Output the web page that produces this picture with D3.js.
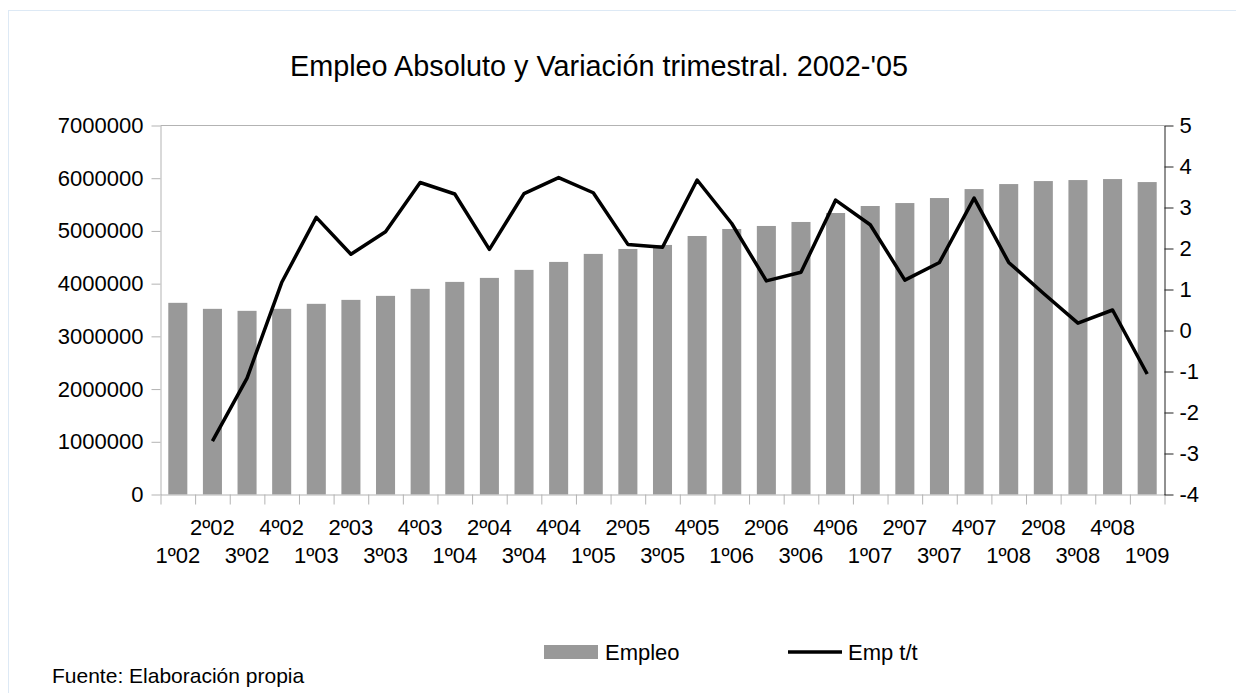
<!DOCTYPE html>
<html>
<head>
<meta charset="utf-8">
<script src="https://cdn.jsdelivr.net/npm/d3@7/dist/d3.min.js"></script>
<style>
  html, body { margin: 0; padding: 0; background: #fff; }
  svg { display: block; font-family: "Liberation Sans", Arial, sans-serif; }
</style>
</head>
<body>
<svg id="chart" width="1236" height="693"></svg>
<script>
// quarters, 1º02 .. 1º09
const quarters = [
  '1º02', '2º02', '3º02', '4º02',
  '1º03', '2º03', '3º03', '4º03',
  '1º04', '2º04', '3º04', '4º04',
  '1º05', '2º05', '3º05', '4º05',
  '1º06', '2º06', '3º06', '4º06',
  '1º07', '2º07', '3º07', '4º07',
  '1º08', '2º08', '3º08', '4º08',
  '1º09'
]

// Empleo (absolute employment)
const empleo = [
  3636000, 3522000, 3484000, 3522000,
  3617000, 3692000, 3768000, 3901000,
  4033000, 4109000, 4261000, 4412000,
  4564000, 4658000, 4734000, 4904000,
  5037000, 5094000, 5170000, 5340000,
  5473000, 5529000, 5624000, 5794000,
  5889000, 5946000, 5965000, 5984000,
  5927000
]

// Emp t/t (quarterly change, %)
const empTt = [
  null, -2.70, -1.16, 1.17,
  2.76, 1.86, 2.41, 3.61,
  3.33, 1.98, 3.34, 3.73,
  3.36, 2.10, 2.03, 3.67,
  2.61, 1.21, 1.42, 3.18,
  2.58, 1.23, 1.66, 3.23,
  1.66, 0.91, 0.18, 0.50,
  -1.06
]

const leftTicks = [0, 1000000, 2000000, 3000000, 4000000, 5000000, 6000000, 7000000]
const rightTicks = [-4, -3, -2, -1, 0, 1, 2, 3, 4, 5]

const titleText = "Empleo Absoluto y Variación trimestral. 2002-'05"
const sourceText = 'Fuente: Elaboración propia'

const svg = d3.select('#chart')

const plot = {left: 160.5, right: 1164.5, top: 125.5, bottom: 494.5}
const axisGrey = '#b3b3b3'
const barColor = '#999999'

// plain hyphen for negatives, like the original
const plainFmt = (d) => String(d)

// outer frame
svg.append('rect')
  .attr('x', 8.5).attr('y', 10.5)
  .attr('width', 1260).attr('height', 720)
  .attr('fill', 'none')
  .attr('stroke', '#dde9f5')

// title
svg.append('text')
  .attr('x', 599).attr('y', 76)
  .attr('text-anchor', 'middle')
  .style('font-size', '28.8px')
  .attr('fill', '#000')
  .text(titleText)

// scales
const x = d3.scaleBand()
  .domain(quarters)
  .range([plot.left, plot.right])
  .paddingInner(0.45)
  .paddingOuter(0.225)

const xEdge = d3.scaleLinear()
  .domain([0, quarters.length])
  .range([plot.left, plot.right])

const yL = d3.scaleLinear().domain([0, 7000000]).range([plot.bottom, plot.top])
const yR = d3.scaleLinear().domain([-4, 5]).range([plot.bottom, plot.top])

// top border of plot
svg.append('line')
  .attr('x1', plot.left).attr('x2', plot.right)
  .attr('y1', plot.top).attr('y2', plot.top)
  .attr('stroke', axisGrey)

// bars
svg.append('g')
  .selectAll('rect')
  .data(empleo)
  .join('rect')
  .attr('x', (d, i) => x(quarters[i]))
  .attr('y', (d) => yL(d))
  .attr('width', x.bandwidth())
  .attr('height', (d) => yL(0) - yL(d))
  .attr('fill', barColor)

// bottom axis (ticks at category edges)
const gx = svg.append('g')
  .attr('transform', `translate(0,${plot.bottom})`)
  .call(d3.axisBottom(xEdge)
    .tickValues(d3.range(quarters.length + 1))
    .tickSize(10)
    .tickSizeOuter(0)
    .tickFormat(''))
gx.selectAll('path, line').attr('stroke', axisGrey)

// staggered category labels
svg.append('g')
  .selectAll('text')
  .data(quarters)
  .join('text')
  .attr('x', (d) => x(d) + x.bandwidth() / 2)
  .attr('y', (d, i) => i % 2 === 0 ? 563 : 535)
  .attr('text-anchor', 'middle')
  .style('font-size', '22px')
  .attr('fill', '#000')
  .text((d) => d)

// left axis
const gl = svg.append('g')
  .attr('transform', `translate(${plot.left},0)`)
  .call(d3.axisLeft(yL)
    .tickValues(leftTicks)
    .tickSize(9)
    .tickSizeOuter(0)
    .tickPadding(8)
    .tickFormat(plainFmt))
gl.selectAll('path, line').attr('stroke', axisGrey)
gl.selectAll('text').style('font-size', '22px').attr('fill', '#000')
gl.attr('font-family', null)

// right axis
const gr = svg.append('g')
  .attr('transform', `translate(${plot.right},0)`)
  .call(d3.axisRight(yR)
    .tickValues(rightTicks)
    .tickSize(9)
    .tickSizeOuter(0)
    .tickPadding(6)
    .tickFormat(plainFmt))
gr.selectAll('path, line').attr('stroke', '#222')
gr.selectAll('text').style('font-size', '22px').attr('fill', '#000')
gr.attr('font-family', null)

// line series
const line = d3.line()
  .defined((d) => d !== null)
  .x((d, i) => x(quarters[i]) + x.bandwidth() / 2)
  .y((d) => yR(d))

svg.append('path')
  .datum(empTt)
  .attr('d', line)
  .attr('fill', 'none')
  .attr('stroke', '#000')
  .attr('stroke-width', 3.5)
  .attr('stroke-linejoin', 'round')

// legend
const legend = svg.append('g')
legend.append('rect')
  .attr('x', 544).attr('y', 645)
  .attr('width', 54).attr('height', 14)
  .attr('fill', barColor)
legend.append('text')
  .attr('x', 605).attr('y', 660)
  .style('font-size', '22px')
  .text('Empleo')
legend.append('line')
  .attr('x1', 788).attr('x2', 842)
  .attr('y1', 652).attr('y2', 652)
  .attr('stroke', '#000')
  .attr('stroke-width', 3.5)
legend.append('text')
  .attr('x', 848).attr('y', 660)
  .style('font-size', '22px')
  .text('Emp t/t')

// source note
svg.append('text')
  .attr('x', 52).attr('y', 683)
  .style('font-size', '21px')
  .text(sourceText)
</script>
</body>
</html>
